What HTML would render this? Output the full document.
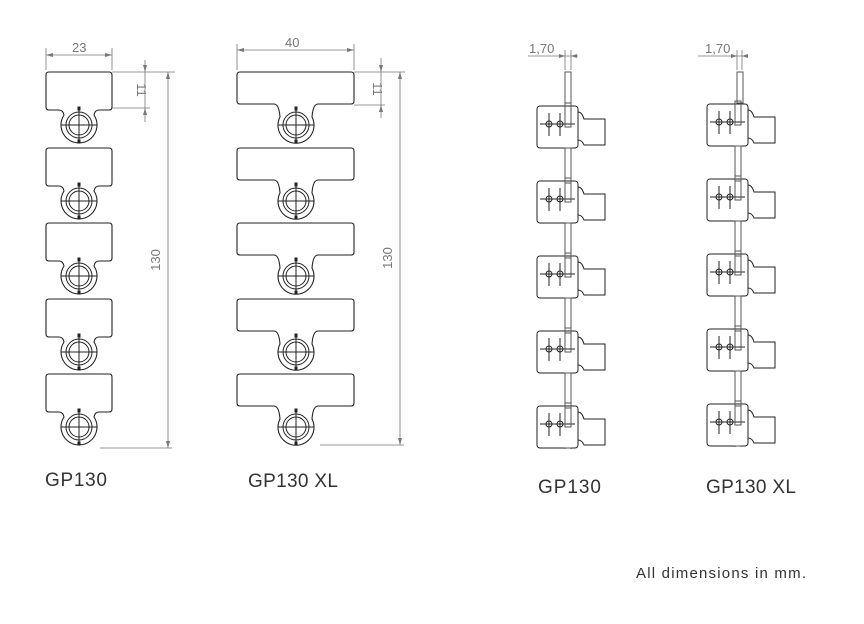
<!DOCTYPE html>
<html><head><meta charset="utf-8"><style>
html,body{margin:0;padding:0;background:#fff;}
svg{display:block;}
text{font-family:"Liberation Sans",sans-serif;}
</style></head><body>
<svg width="864" height="624" viewBox="0 0 864 624" xmlns="http://www.w3.org/2000/svg">
<defs>
<g id="ring" fill="none" stroke="#222" stroke-width="1">
  <circle r="13"/><circle r="10"/>
  <path d="M-18 0H18M0 -18V18M-5 0H5M0 -7V7" stroke-width="1"/>
  <rect x="-1" y="-18" width="2" height="3" fill="#222"/>
  <rect x="-1" y="15" width="2" height="3" fill="#222"/>
</g>
<g id="u1" fill="none" stroke="#222" stroke-width="1.1">
  <path d="M-30 -53H30Q33 -53 33 -50V-18Q33 -15 30 -15H20Q16 -15 15 -10A18 18 0 1 1 -15 -10Q-16 -15 -20 -15H-30Q-33 -15 -33 -18V-50Q-33 -53 -30 -53Z"/>
  <use href="#ring"/>
</g>
<g id="u2" fill="none" stroke="#222" stroke-width="1.1">
  <path d="M-56 -53H55Q58 -53 58 -50V-24Q58 -21 55 -21H22Q17 -21 16 -8A18 18 0 1 1 -16 -8Q-17 -21 -22 -21H-56Q-59 -21 -59 -24V-50Q-59 -53 -56 -53Z"/>
  <use href="#ring"/>
</g>
<g id="s" fill="none" stroke="#222" stroke-width="1">
  <rect x="0" y="-21" width="41" height="42" rx="3"/>
  <path d="M41 -15Q45 -15 47 -8H68V18H47Q45 13 41 13"/>
  <path d="M3 -3H38M12 -14V9M23 -14V9"/>
  <circle cx="12" cy="-3" r="3"/><circle cx="23" cy="-3" r="3"/>
  <rect x="28" y="-24" width="6" height="24" stroke="#555"/>
  <rect x="28" y="21" width="6" height="35" stroke="#555"/>
</g>
</defs>

<g transform="translate(79,125)"><use href="#u1"/></g>
<g transform="translate(79,201)"><use href="#u1"/></g>
<g transform="translate(79,276)"><use href="#u1"/></g>
<g transform="translate(79,352)"><use href="#u1"/></g>
<g transform="translate(79,427)"><use href="#u1"/></g>

<g transform="translate(296,125)"><use href="#u2"/></g>
<g transform="translate(296,201)"><use href="#u2"/></g>
<g transform="translate(296,276)"><use href="#u2"/></g>
<g transform="translate(296,352)"><use href="#u2"/></g>
<g transform="translate(296,427)"><use href="#u2"/></g>

<g stroke="#777" stroke-width="0.8" fill="none">
  <path d="M46 48V70M112 48V70M46 55H112"/>
  <path d="M112 72H175M112 108H150M145 60V122M168 72V448M100 448H172"/>
  <path d="M237 44V70M354 44V70M237 50H354"/>
  <path d="M354 72H405M354 105H385M381 58V118M400 72V445M320 445H404"/>
  <path d="M528 56H578M565 50V70M571 50V70"/>
  <path d="M698 56H748M737 50V70M742 50V70"/>
</g>
<g fill="#777">
  <path d="M46 55l7-2v4zM112 55l-7-2v4z"/>
  <path d="M145 72l-2-7h4zM145 108l-2 7h4zM168 72l-2 7h4zM168 448l-2-7h4z"/>
  <path d="M237 50l7-2v4zM354 50l-7-2v4z"/>
  <path d="M381 72l-2-7h4zM381 105l-2 7h4zM400 72l-2 7h4zM400 445l-2-7h4z"/>
  <path d="M565 56l-6-2v4zM571 56l6-2v4zM737 56l-6-2v4zM742 56l6-2v4z"/>
</g>
<g fill="#777" font-size="13">
  <text x="72" y="52">23</text>
  <text x="285" y="47">40</text>
  <text x="529" y="53">1,70</text>
  <text x="705" y="53">1,70</text>
  <text transform="translate(137,90) rotate(90)" text-anchor="middle">11</text>
  <text transform="translate(373,89) rotate(90)" text-anchor="middle">11</text>
  <text transform="translate(160,260) rotate(-90)" text-anchor="middle">130</text>
  <text transform="translate(392,258) rotate(-90)" text-anchor="middle">130</text>
</g>

<g stroke="#555" fill="none" stroke-width="1"><rect x="565" y="72" width="6" height="31"/><rect x="737" y="72" width="6" height="31"/></g>
<g transform="translate(537,127)"><use href="#s"/></g>
<g transform="translate(537,202)"><use href="#s"/></g>
<g transform="translate(537,277)"><use href="#s"/></g>
<g transform="translate(537,352)"><use href="#s"/></g>
<g transform="translate(537,427)"><use href="#s"/></g>
<g transform="translate(707,125)"><use href="#s"/></g>
<g transform="translate(707,200)"><use href="#s"/></g>
<g transform="translate(707,275)"><use href="#s"/></g>
<g transform="translate(707,350)"><use href="#s"/></g>
<g transform="translate(707,425)"><use href="#s"/></g>
<rect x="530" y="449" width="100" height="40" fill="#fff"/>
<rect x="700" y="447" width="100" height="40" fill="#fff"/>

<g fill="#333" font-size="19">
  <text x="45" y="486" textLength="62">GP130</text>
  <text x="248" y="487" textLength="90">GP130 XL</text>
  <text x="538" y="493" textLength="63">GP130</text>
  <text x="706" y="493" textLength="90">GP130 XL</text>
</g>
<text x="636" y="578" font-size="15" fill="#333" textLength="170">All dimensions in mm.</text>
</svg>
</body></html>
